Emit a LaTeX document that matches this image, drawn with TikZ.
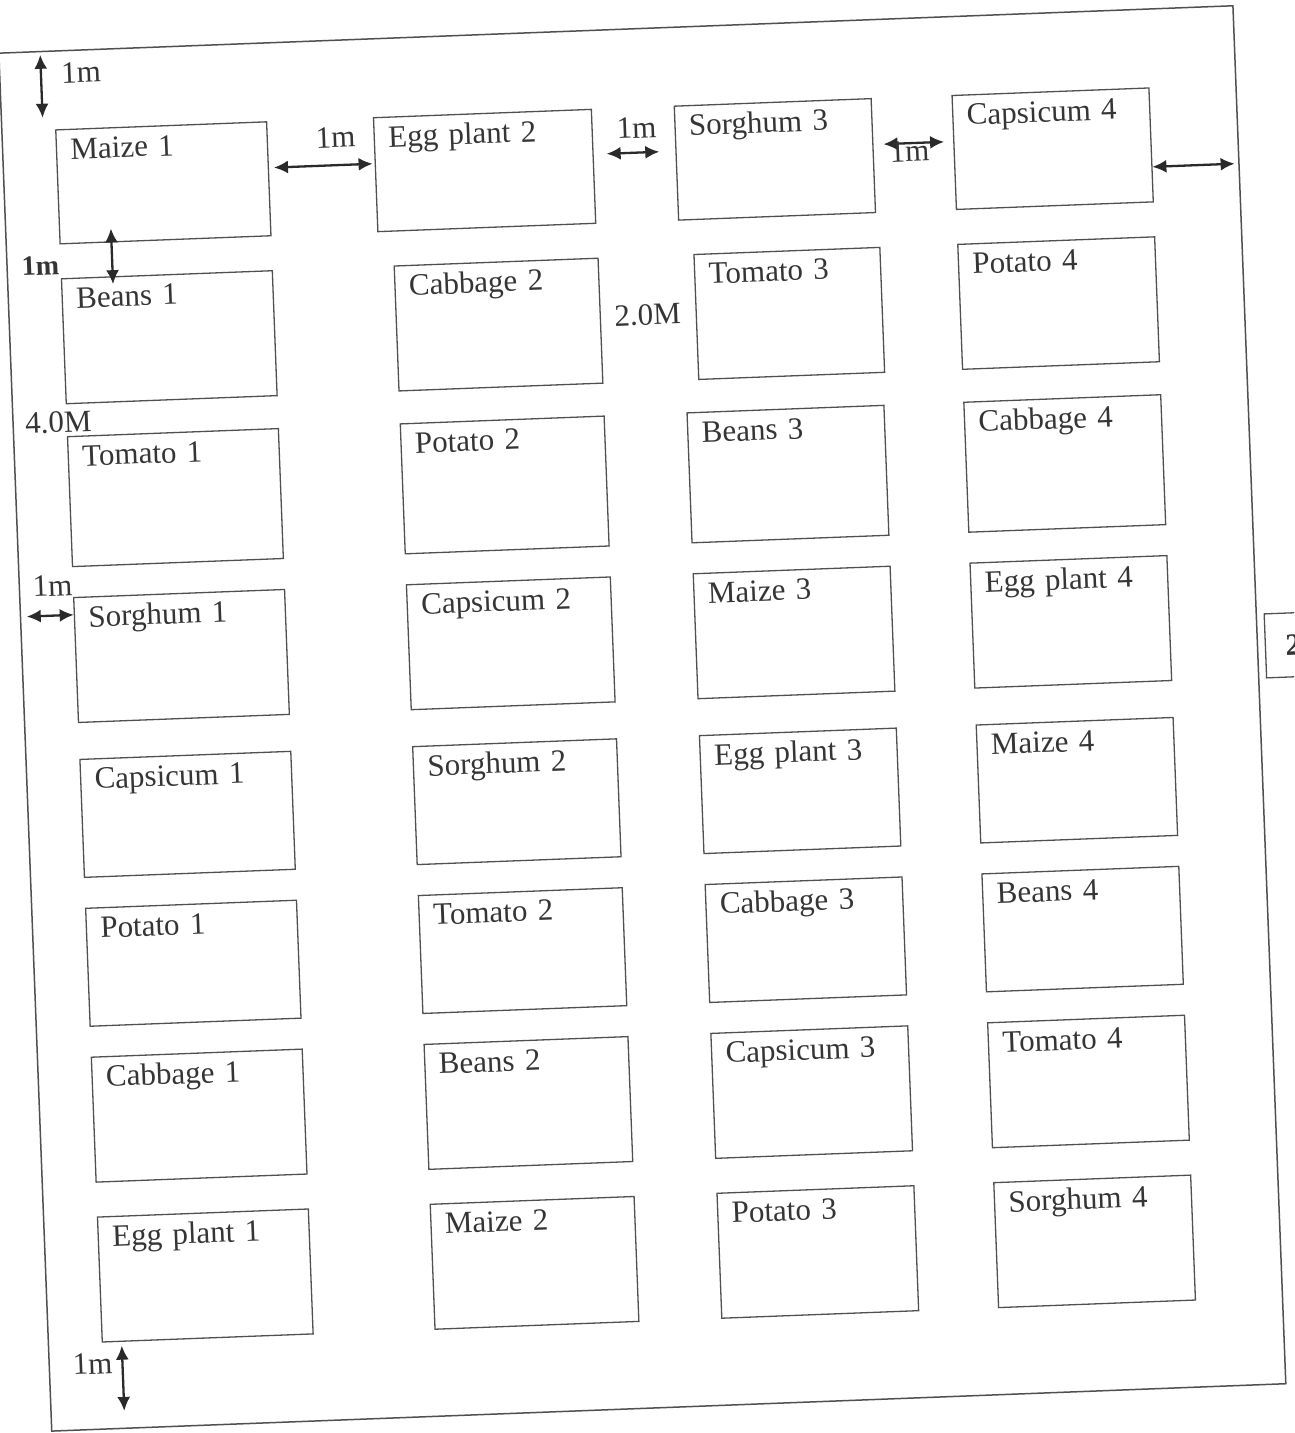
\documentclass[tikz,border=0pt]{standalone}
\usepackage{fontspec}
\setmainfont{Liberation Serif}
\usetikzlibrary{arrows.meta}
\definecolor{ink}{HTML}{353535}
\definecolor{rule}{HTML}{505050}
\definecolor{dark}{HTML}{2A2A2A}
\begin{document}
\begin{tikzpicture}[x=1pt,y=-1pt,>={Latex[length=14pt,width=13pt]},
 every node/.style={text=ink,font=\fontsize{31}{36}\selectfont},
 bed/.style={draw=rule,line width=1.3pt,anchor=north west,inner xsep=14pt,inner ysep=0pt,align=left,text height=30pt,text depth=95pt},
 c1/.style={text width=183pt},c2/.style={text width=176pt},c3/.style={text width=169pt},
 first/.style={text depth=84pt},low/.style={text depth=88pt},
 lab/.style={inner sep=0pt},
 gap/.style={draw=dark,line width=2.3pt,<->}]
\fill[white] (0,0) rectangle (1294,1433);
\useasboundingbox (0,0) rectangle (1294,1433);
\clip (0,0) rectangle (1294,1433);
\begin{scope}[rotate around={2.2:(647,716)},transform shape]
\node[draw=rule,line width=1.5pt,anchor=north west,minimum width=1235pt,minimum height=1379pt,inner sep=0pt] (field) at (24,28) {};
\node[bed,c1,first] (maize1) at (78,107) {Maize 1};
\node[bed,c1] (beans1) at (78,256) {Beans 1};
\node[bed,c1,text depth=100pt] (tomato1) at (78,414) {Tomato 1};
\node[bed,c1] (sorghum1) at (78,575) {Sorghum 1};
\node[bed,c1,low] (capsicum1) at (78,737) {Capsicum 1};
\node[bed,c1,low] (potato1) at (78,886) {Potato 1};
\node[bed,c1] (cabbage1) at (78,1035) {Cabbage 1};
\node[bed,c1] (egg1) at (78,1195) {Egg plant 1};
\node[bed,first,text width=190pt] (egg2) at (396,107) {Egg plant 2};
\node[bed,c2] (cabbage2) at (411,256) {Cabbage 2};
\node[bed,c2,text depth=100pt] (potato2) at (411,414) {Potato 2};
\node[bed,c2] (capsicum2) at (411,575) {Capsicum 2};
\node[bed,c2,low] (sorghum2) at (411,737) {Sorghum 2};
\node[bed,c2,low] (tomato2) at (411,886) {Tomato 2};
\node[bed,c2] (beans2) at (411,1035) {Beans 2};
\node[bed,c2] (maize2) at (411,1195) {Maize 2};
\node[bed,c3,first] (sorghum3) at (697,107) {Sorghum 3};
\node[bed,text width=158pt] (tomato3) at (711,256) {Tomato 3};
\node[bed,c3,text depth=100pt] (beans3) at (698,414) {Beans 3};
\node[bed,c3] (maize3) at (698,575) {Maize 3};
\node[bed,c3,low] (egg3) at (698,737) {Egg plant 3};
\node[bed,c3,low] (cabbage3) at (698,886) {Cabbage 3};
\node[bed,c3] (capsicum3) at (698,1035) {Capsicum 3};
\node[bed,c3] (potato3) at (698,1195) {Potato 3};
\node[bed,c3,first] (capsicum4) at (975,107) {Capsicum 4};
\node[bed,c3] (potato4) at (975,256) {Potato 4};
\node[bed,c3,text depth=100pt] (cabbage4) at (975,414) {Cabbage 4};
\node[bed,c3] (egg4) at (975,575) {Egg plant 4};
\node[bed,c3,low] (maize4) at (975,737) {Maize 4};
\node[bed,c3,low] (beans4) at (975,886) {Beans 4};
\node[bed,c3] (tomato4) at (975,1035) {Tomato 4};
\node[bed,c3] (sorghum4) at (975,1195) {Sorghum 4};
\node[draw=rule,line width=1.3pt,anchor=north west,minimum height=64pt,inner xsep=20pt,font=\fontsize{31}{36}\selectfont\bfseries] (side) at (1267,637) {2};
\coordinate (m1t) at ([xshift=-12pt,yshift=12pt]maize1.north west);
\draw[gap,shorten >=4pt] (m1t) -- (m1t |- field.north);
\node[lab] (gtop) at (106,51) {1m};
\draw[gap,shorten <=5pt,shorten >=2pt] ([yshift=11pt]maize1.east) -- ([yshift=11pt]egg2.west);
\node[lab] (g12) at (358,126) {1m};
\draw[gap,shorten <=13pt,shorten >=16pt] ([yshift=12pt]egg2.east) -- ([yshift=12pt]sorghum3.west);
\node[lab] (g23) at (659,128) {1m};
\draw[gap,shorten <=10pt,shorten >=9pt] ([yshift=11pt]sorghum3.east) -- ([yshift=11pt]capsicum4.west);
\node[lab] (g34) at (931,162) {1m};
\coordinate (c4r) at ([yshift=-22pt]capsicum4.east);
\draw[gap,shorten >=5pt] (c4r) -- (c4r -| field.east);
\draw[gap] ([xshift=52pt,yshift=14pt]maize1.south west) -- ([xshift=52pt,yshift=-8pt]beans1.north west);
\node[lab,font=\fontsize{28}{34}\selectfont\bfseries] (grow) at (58,243) {1m};
\node[lab] (wcol) at (663,315) {2.0M};
\node[lab] (wrow) at (70,400) {4.0M};
\coordinate (s1l) at ([yshift=-18pt]sorghum1.north west);
\draw[gap,shorten <=7pt] (s1l -| field.west) -- (s1l);
\node[lab] (gleft) at (58,563) {1m};
\coordinate (e1b) at ([xshift=20pt,yshift=-4pt]egg1.south west);
\draw[gap,shorten >=18pt] (e1b) -- (e1b |- field.south);
\node[lab] (gbot) at (68,1342) {1m};
\end{scope}
\end{tikzpicture}
\end{document}
